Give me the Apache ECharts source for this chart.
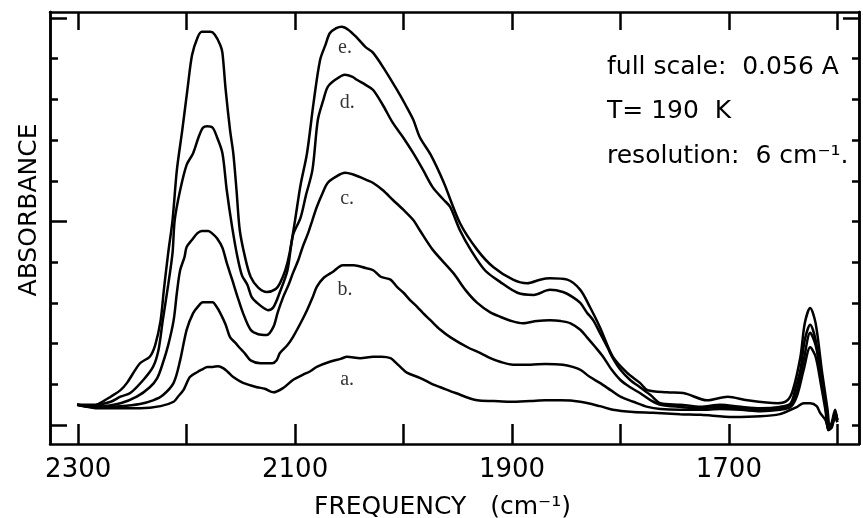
<!DOCTYPE html>
<html><head><meta charset="utf-8">
<script src="https://cdn.jsdelivr.net/npm/echarts@6/dist/echarts.min.js"></script>
<style>html,body{margin:0;padding:0;background:#fff}#c{width:863px;height:518px}</style>
</head><body><div id="c"></div>
<script>
// Frequency in cm^-1, absorbance in mA (full scale 0.056 A = 10 divisions)
const freqTicks = [2300, 2200, 2100, 2000, 1900, 1800, 1700, 1600];
const freqLabels = [2300, 2100, 1900, 1700];
const absTicks = [0, 5.6, 11.2, 16.8, 22.4, 28, 33.6, 39.2, 44.8, 50.4, 56];
const absMajorTicks = [0, 28, 56];
const absTopTick = [56];

const curveE = [[2301,2.8],[2289,2.5],[2280,3.0],[2270,3.9],[2261,4.8],[2255,5.8],[2243,8.5],[2234,9.4],[2229,11.0],[2224,14.4],[2221,18.6],[2217,23.7],[2213,28.2],[2209,35.1],[2204,40.6],[2199,46.5],[2195,50.9],[2190,53.3],[2186,54.1],[2178,54.1],[2174,53.7],[2169,52.3],[2167,51.2],[2164,46.1],[2160,40.6],[2157,37.4],[2154,32.3],[2151,26.8],[2146,23.0],[2141,20.4],[2134,18.9],[2126,18.3],[2118,18.7],[2114,19.5],[2109,21.3],[2105,23.7],[2100,28.2],[2095,33.0],[2089,37.4],[2083,44.3],[2077,50.2],[2072,52.3],[2068,53.9],[2062,54.6],[2057,54.8],[2051,54.4],[2043,53.3],[2035,52.0],[2028,51.2],[2017,48.8],[2006,46.1],[1998,44.0],[1991,42.0],[1985,39.6],[1975,37.2],[1963,33.4],[1948,27.8],[1932,24.1],[1917,21.7],[1899,20.0],[1886,19.5],[1874,20.0],[1865,20.2],[1849,20.0],[1837,18.6],[1828,16.2],[1819,13.5],[1807,9.4],[1794,7.2],[1782,5.8],[1775,4.8],[1757,4.5],[1742,4.4],[1720,3.4],[1701,3.9],[1683,3.4],[1655,3.0],[1646,3.4],[1641,4.8],[1634,9.4],[1630,14.0],[1625,16.1],[1620,14.0],[1614,7.2],[1609,2.1],[1607,-0.4],[1605,0.4],[1602,2.1],[1600,0.7]];

const curveD = [[2301,2.8],[2284,2.8],[2270,3.2],[2261,3.9],[2252,4.4],[2240,6.2],[2231,8.0],[2226,10.3],[2222,14.4],[2217,19.3],[2213,23.7],[2211,28.2],[2206,32.3],[2200,35.8],[2194,37.4],[2189,39.6],[2185,40.9],[2181,41.1],[2176,40.9],[2172,39.6],[2167,37.4],[2163,32.3],[2158,27.2],[2153,23.0],[2149,20.6],[2144,19.3],[2140,17.6],[2135,16.8],[2129,16.1],[2125,15.8],[2120,16.2],[2114,18.3],[2107,21.3],[2102,26.1],[2095,28.5],[2090,31.6],[2084,35.1],[2079,42.0],[2074,44.7],[2070,46.5],[2063,47.5],[2054,48.2],[2047,47.9],[2043,47.5],[2035,46.8],[2028,46.1],[2019,44.0],[2010,41.6],[2000,39.5],[1991,37.4],[1982,35.1],[1973,32.7],[1963,31.0],[1957,30.0],[1948,26.8],[1938,24.1],[1925,21.3],[1911,19.7],[1895,18.2],[1880,17.9],[1865,18.6],[1853,18.3],[1844,17.6],[1837,16.8],[1831,15.5],[1825,14.4],[1819,12.7],[1812,10.7],[1807,9.2],[1800,7.6],[1791,6.2],[1782,5.2],[1772,4.1],[1763,3.0],[1745,2.8],[1726,2.5],[1708,2.8],[1689,2.5],[1671,2.3],[1653,2.5],[1643,3.0],[1639,4.8],[1634,7.6],[1630,11.7],[1625,13.8],[1620,11.7],[1616,7.6],[1611,2.8],[1608,-0.7],[1605,0.0],[1602,1.8],[1600,0.7]];

const curveC = [[2301,2.8],[2280,2.6],[2261,3.0],[2246,3.9],[2234,5.2],[2227,6.5],[2222,8.5],[2217,11.0],[2212,14.4],[2209,18.2],[2206,21.3],[2202,23.1],[2200,24.5],[2195,25.5],[2190,26.4],[2186,26.7],[2180,26.7],[2176,26.3],[2172,25.7],[2167,24.4],[2163,22.3],[2158,20.0],[2153,17.6],[2148,15.4],[2141,13.1],[2134,12.5],[2126,12.4],[2120,13.5],[2116,15.5],[2111,17.6],[2106,19.3],[2102,20.9],[2097,22.7],[2093,24.5],[2088,26.4],[2084,28.2],[2080,30.0],[2075,31.8],[2070,33.3],[2063,34.1],[2054,34.7],[2047,34.5],[2040,34.1],[2034,33.7],[2028,33.3],[2019,32.3],[2010,31.0],[2000,29.6],[1991,28.2],[1985,26.8],[1973,24.1],[1954,20.9],[1943,18.6],[1932,16.8],[1920,15.5],[1911,14.9],[1900,14.3],[1890,14.0],[1877,14.3],[1865,14.4],[1855,14.3],[1846,14.0],[1837,13.1],[1831,12.1],[1823,10.7],[1816,9.4],[1808,7.6],[1800,6.2],[1791,5.2],[1782,4.4],[1772,3.4],[1763,2.8],[1745,2.5],[1726,2.3],[1708,2.5],[1689,2.3],[1671,2.2],[1653,2.3],[1643,2.8],[1637,4.8],[1631,8.9],[1625,12.7],[1620,11.0],[1615,6.9],[1611,2.8],[1608,-0.4],[1605,0.0],[1602,1.8],[1600,0.7]];

const curveB = [[2301,2.8],[2280,2.5],[2261,2.6],[2243,2.9],[2231,3.4],[2222,4.1],[2212,5.8],[2206,8.9],[2200,13.1],[2194,15.4],[2189,16.4],[2185,16.9],[2176,16.9],[2173,16.4],[2169,15.4],[2164,13.8],[2160,12.1],[2155,11.3],[2151,10.6],[2146,9.8],[2141,8.9],[2132,8.5],[2121,8.5],[2117,8.9],[2114,9.9],[2107,11.0],[2102,12.1],[2095,14.0],[2089,15.8],[2084,17.5],[2080,19.0],[2074,20.2],[2065,21.1],[2056,22.0],[2046,22.0],[2035,21.6],[2028,21.3],[2021,20.4],[2012,20.0],[2006,19.0],[2000,18.2],[1994,17.2],[1987,16.2],[1982,15.4],[1975,14.4],[1966,13.1],[1957,12.1],[1941,10.7],[1929,9.9],[1920,9.2],[1911,8.7],[1899,8.3],[1883,8.3],[1869,8.4],[1853,8.3],[1844,8.0],[1837,7.6],[1828,6.6],[1819,5.8],[1809,4.8],[1800,3.9],[1788,3.2],[1775,2.5],[1763,2.2],[1745,2.1],[1726,2.1],[1708,2.2],[1689,2.1],[1671,1.9],[1653,2.1],[1643,2.5],[1637,4.1],[1631,7.6],[1625,10.7],[1620,9.4],[1615,5.5],[1611,2.1],[1608,-0.7],[1605,-0.3],[1602,1.4],[1600,0.4]];

const curveA = [[2301,2.8],[2280,2.3],[2261,2.3],[2243,2.3],[2224,2.6],[2212,3.2],[2208,3.9],[2203,4.8],[2197,6.6],[2190,7.3],[2185,7.7],[2181,8.0],[2176,8.0],[2171,8.1],[2166,7.8],[2162,7.3],[2157,6.6],[2148,5.8],[2135,5.2],[2128,5.0],[2120,4.5],[2111,5.1],[2102,6.2],[2093,6.9],[2086,7.4],[2080,8.0],[2068,8.7],[2058,9.1],[2052,9.4],[2040,9.2],[2028,9.4],[2020,9.4],[2012,9.2],[2008,8.7],[2003,8.0],[1997,7.2],[1985,6.5],[1973,5.6],[1966,5.2],[1952,4.4],[1932,3.4],[1917,3.3],[1902,3.2],[1883,3.3],[1869,3.4],[1855,3.4],[1837,3.2],[1819,2.6],[1807,2.1],[1788,1.8],[1770,1.7],[1745,1.5],[1726,1.4],[1696,1.1],[1671,1.2],[1653,1.5],[1643,2.1],[1637,2.5],[1631,3.0],[1625,3.0],[1619,2.6],[1616,1.7],[1611,0.7],[1608,-0.4],[1605,0.0],[1602,1.0],[1600,0.4]];

const curveNames = ['a.', 'b.', 'c.', 'd.', 'e.'];
const curveLabelPos = [[2052,6.2],[2054,18.6],[2052,31.2],[2052,44.4],[2054,51.9]];
const notes = ['full scale:  0.056 A', 'T= 190  K', 'resolution:  6 cm\u207B\u00B9.'];

const chart = echarts.init(document.getElementById('c'), null, {renderer: 'canvas'});
const black = '#000';
const sans = 'DejaVu Sans';
const xBase = {type: 'value', min: 1580, max: 2326, inverse: true, splitLine: {show: false},
  axisLine: {show: true, onZero: false, lineStyle: {color: black, width: 2.5}}};
const yBase = {type: 'value', min: -2.61, max: 56.83, splitLine: {show: false},
  axisLabel: {show: false}, axisLine: {show: true, onZero: false, lineStyle: {color: black, width: 2.5}}};

const series = [curveA, curveB, curveC, curveD, curveE].map((d, i) => ({
  type: 'line', name: curveNames[i], data: d, symbol: 'none', smooth: 0.3,
  lineStyle: {color: black, width: 2.5}, z: 3, silent: true
}));
series.push({
  type: 'scatter', symbolSize: 0, silent: true,
  data: curveLabelPos.map((p, i) => ({value: p, name: curveNames[i]})),
  label: {show: true, position: 'inside', formatter: '{b}', color: black,
    fontFamily: 'Liberation Serif', fontSize: 20}
});

chart.setOption({
  animation: false,
  backgroundColor: '#fff',
  grid: {left: 50, right: 4, top: 12, bottom: 74, containLabel: false, outerBoundsMode: 'none'},
  xAxis: [
    Object.assign({}, xBase, {position: 'bottom',
      axisTick: {show: true, inside: true, length: 20, customValues: freqTicks, lineStyle: {color: black, width: 2.5}},
      axisLabel: {show: true, customValues: freqLabels, formatter: v => String(v), color: black, fontFamily: sans, fontSize: 26, margin: 13},
      name: 'FREQUENCY   (cm\u207B\u00B9)', nameLocation: 'middle', nameGap: 51,
      nameTextStyle: {color: black, fontFamily: sans, fontSize: 25, padding: [0, 24, 0, 0]}}),
    Object.assign({}, xBase, {position: 'top',
      axisTick: {show: true, inside: true, length: 18, customValues: freqTicks, lineStyle: {color: black, width: 2.5}},
      axisLabel: {show: false}})
  ],
  yAxis: [
    Object.assign({}, yBase, {position: 'left',
      axisTick: {show: true, inside: true, length: 8, customValues: absTicks, lineStyle: {color: black, width: 2.5}},
      name: 'ABSORBANCE', nameLocation: 'middle', nameGap: 8, nameRotate: 90,
      nameTextStyle: {color: black, fontFamily: sans, fontSize: 25, padding: [0, 0, 0, 36]}}),
    Object.assign({}, yBase, {position: 'left',
      axisTick: {show: true, inside: true, length: 17, customValues: absMajorTicks, lineStyle: {color: black, width: 2.5}}}),
    Object.assign({}, yBase, {position: 'right',
      axisTick: {show: true, inside: true, length: 7, customValues: absTicks, lineStyle: {color: black, width: 2.5}}}),
    Object.assign({}, yBase, {position: 'right',
      axisTick: {show: true, inside: true, length: 16, customValues: absTopTick, lineStyle: {color: black, width: 2.5}}})
  ],
  graphic: notes.map((t, i) => ({
    type: 'text', left: 607, top: [55, 99, 144][i],
    style: {text: t, fill: black, font: '25px "DejaVu Sans"'}
  })),
  series: series
});
</script>
</body></html>
